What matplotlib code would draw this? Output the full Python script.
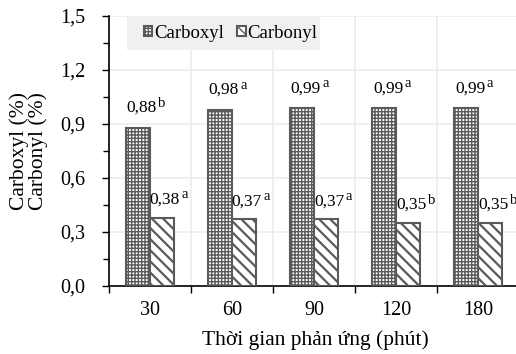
import matplotlib
matplotlib.use("Agg")
import matplotlib.pyplot as plt
import numpy as np
from matplotlib.ticker import FixedLocator, FuncFormatter, MultipleLocator
from matplotlib.patches import Rectangle

plt.rcParams['font.family'] = ['Liberation Serif', 'DejaVu Serif']
plt.rcParams['hatch.linewidth'] = 1.0

categories = ['30', '60', '90', '120', '180']
carboxyl = [0.88, 0.98, 0.99, 0.99, 0.99]
carbonyl = [0.38, 0.37, 0.37, 0.35, 0.35]
carboxyl_sig = ['b', 'a', 'a', 'a', 'a']
carbonyl_sig = ['a', 'a', 'a', 'b', 'b']

fig = plt.figure(figsize=(5.16, 3.54), dpi=100)
ax = fig.add_axes([109/516, 1-286/354, (516-109)/516, 270/354])

x = np.arange(len(categories))
w = 0.293
edge = '#5a5a5a'
b1 = ax.bar(x - w/2, carboxyl, w, facecolor='white', edgecolor=edge, hatch='+++++', linewidth=1.5, zorder=3)
b2 = ax.bar(x + w/2, carbonyl, w, facecolor='white', edgecolor=edge, hatch='\\\\\\', linewidth=1.5, zorder=3)
for p in b1.patches:
    if hasattr(p, 'set_hatch_linewidth'):
        p.set_hatch_linewidth(1.0)
for p in b2.patches:
    if hasattr(p, 'set_hatch_linewidth'):
        p.set_hatch_linewidth(1.6)


def label(xc, val, sig, dx_px, dy_pt):
    num = f"{val:.2f}".replace('.', ',')
    ax.annotate(num, (xc, val), xytext=(dx_px * 0.72, dy_pt), textcoords='offset points',
                ha='right', va='baseline', fontsize=12.5, zorder=5)
    ax.annotate(sig, (xc, val), xytext=(dx_px * 0.72 + 1.0, dy_pt + 3.8), textcoords='offset points',
                ha='left', va='baseline', fontsize=10.5, zorder=5)


for i in range(len(categories)):
    label(x[i] - w/2, carboxyl[i], carboxyl_sig[i], 19, 11.2)
    label(x[i] + w/2, carbonyl[i], carbonyl_sig[i], 18, 10.0)

ax.set_xlim(-0.5, len(categories) - 0.5 - 0.04)
ax.set_ylim(0, 1.5)
ax.yaxis.set_major_locator(MultipleLocator(0.3))
ax.yaxis.set_minor_locator(MultipleLocator(0.15))
ax.yaxis.set_major_formatter(FuncFormatter(lambda v, p: f"{v:.1f}".replace('.', ',')))
ax.set_xticks(x)
ax.set_xticklabels(categories)
ax.xaxis.set_minor_locator(FixedLocator(np.arange(-0.5, len(categories), 1.0)))
ax.tick_params(axis='x', which='major', length=0, labelsize=14.5, pad=11)
ax.tick_params(axis='x', which='minor', length=5, direction='out', width=1)
ax.tick_params(axis='y', which='major', length=5, labelsize=14.5, width=1, pad=12)
ax.tick_params(axis='y', which='minor', length=4.5, width=1)

ax.grid(axis='y', which='major', color='#ececec', linewidth=1.2, zorder=0)
ax.grid(axis='x', which='minor', color='#ececec', linewidth=1.2, zorder=0)
ax.set_axisbelow(True)
for s in ['top', 'right']:
    ax.spines[s].set_visible(False)
ax.spines['left'].set_linewidth(1.2)
ax.spines['bottom'].set_linewidth(1.2)

ax.set_ylabel("Carboxyl (%)\nCarbonyl (%)", fontsize=15.5, linespacing=0.95)
ax.yaxis.set_label_coords(-0.150, 0.5)
ax.set_xlabel("Thời gian phản ứng (phút)", fontsize=15.5)
ax.xaxis.set_label_coords(0.506, -0.163)

ax.add_patch(Rectangle((0.044, 0.874), 0.474, 0.122, transform=ax.transAxes,
                       facecolor='#f0f0f0', edgecolor='none', zorder=2))
leg = ax.legend([b1, b2], ['Carboxyl', 'Carbonyl'], loc='center left', bbox_to_anchor=(0.086, 0.935),
                ncol=2, fontsize=13.5, frameon=False, handlelength=0.45, handleheight=0.45,
                handletextpad=0.1, columnspacing=0.7, borderpad=0, borderaxespad=0)
leg.set_zorder(4)

fig.savefig('out.png', dpi=100)
